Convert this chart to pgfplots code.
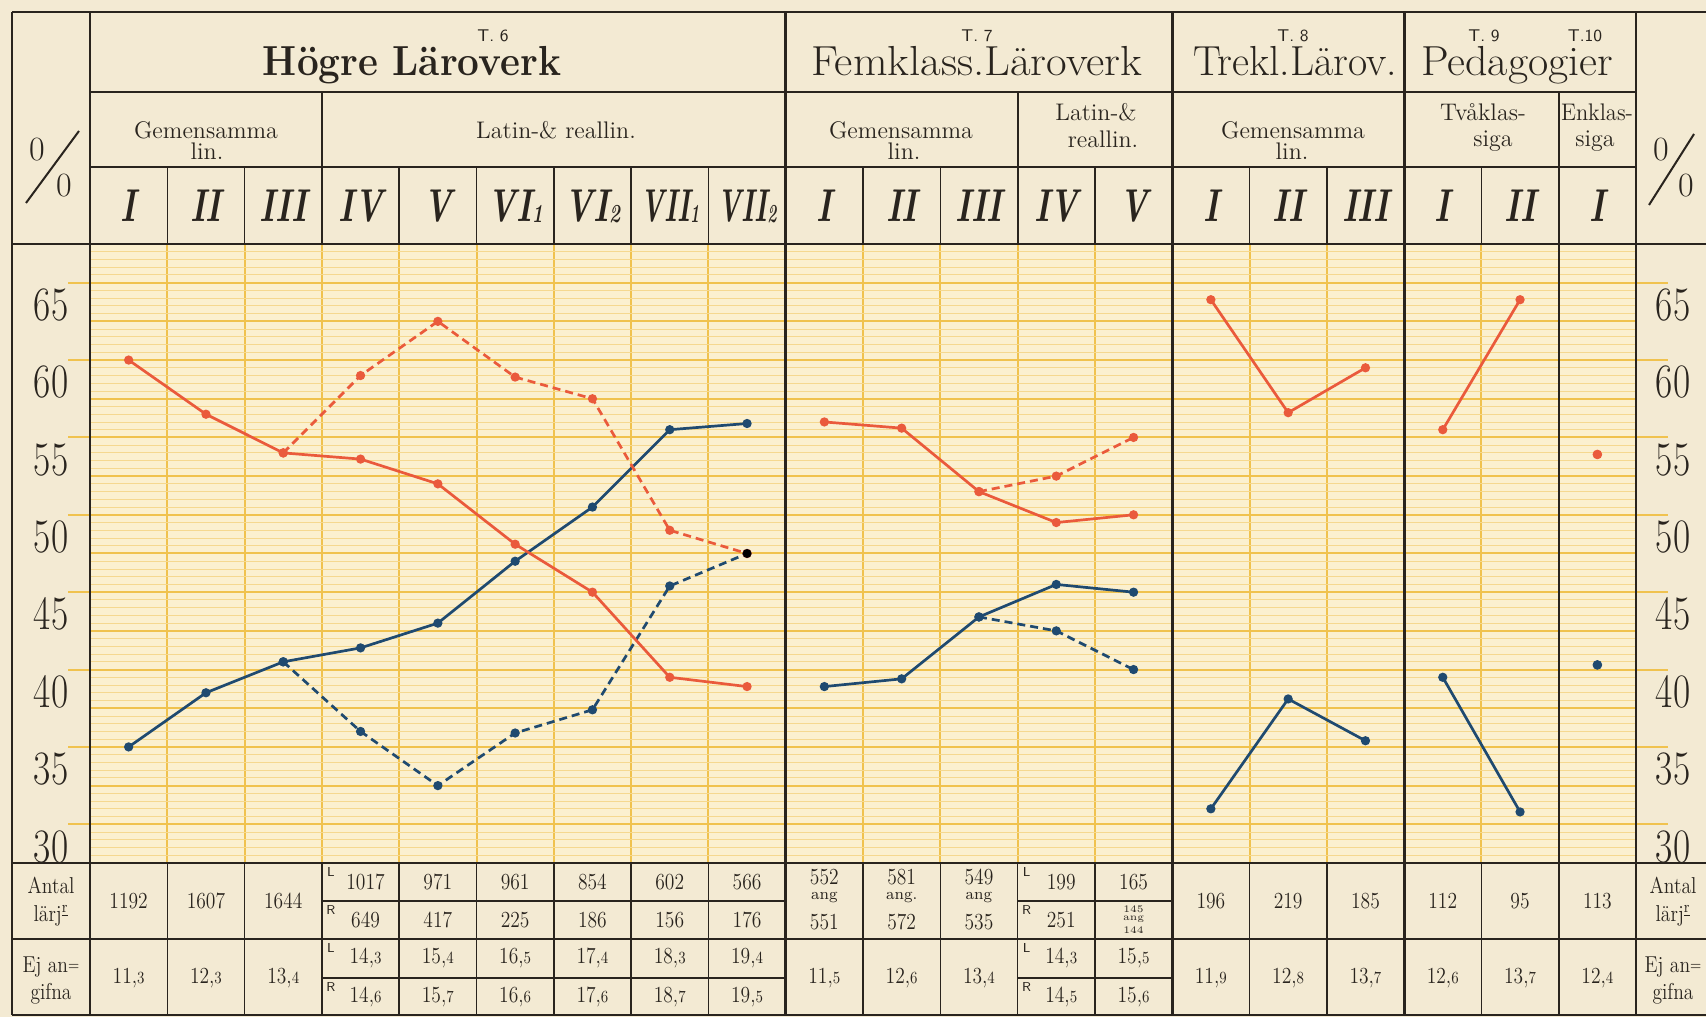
\documentclass[border=0pt]{standalone}
\usepackage{pgfplots}
\pgfplotsset{compat=1.18}
\usepackage{fontspec}
\usepackage{graphicx}
\definecolor{paper}{HTML}{F3EAD3}
\definecolor{plotbg}{HTML}{FBF0CF}
\definecolor{gmaj}{HTML}{F0C24E}
\definecolor{gmin}{HTML}{F5D88F}
\definecolor{ink}{HTML}{29241E}
\definecolor{lred}{HTML}{EA5A3C}
\definecolor{lblue}{HTML}{1F4A70}
\newcommand{\fs}[1]{\fontsize{#1}{#1}\selectfont}
\newcommand{\fb}{\addfontfeature{FakeBold=0.5}}
\newcommand{\Xc}[1]{90+(#1+0.5)*77.3}
\newcommand{\Xb}[1]{90+(#1)*77.3}
\newcommand{\Yv}[1]{863-((#1)-30)*15.475}
\newcommand{\ls}[2]{{\addfontfeature{LetterSpace=#1}#2}}
\newcommand{\dc}[2]{#1,{\fs{8.5}#2}}
\newcommand{\nb}[1]{\scalebox{0.85}[1]{#1}}
\newcommand{\sub}[1]{\raisebox{-0.5pt}{\fs{13}#1}}
\newcommand{\rn}[1]{{\fs{23}\bfseries\itshape\scalebox{0.72}[1]{#1}}}
\newcommand{\rnn}[1]{{\fs{23}\bfseries\itshape\scalebox{0.6}[1]{#1}}}
\begin{document}
\begin{tikzpicture}
\begin{scope}[x=0.5pt, shift={(0,508.5pt)}, y=-0.5pt]
\fill[paper] (0,0) rectangle (1706,1017);
\fill[plotbg] (90,244) rectangle (1636,863);
\foreach \v in {32.5,37.5,...,67.5} {
  \draw[gmaj, line width=1pt] (68,{\Yv{\v}}) -- (90,{\Yv{\v}});
  \draw[gmaj, line width=1pt] (1636,{\Yv{\v}}) -- (1668,{\Yv{\v}});
}
\end{scope}
\begin{axis}[at={(818pt,386.5pt)}, anchor=north east, scale only axis,
  width=773pt, height=309.5pt,
  xmin=0, xmax=20, ymin=30, ymax=70,
  axis line style={draw=none},
  xtick={1,...,19}, ytick={30,32.5,...,70}, minor y tick num=4,
  xticklabels={}, yticklabels={},
  major tick length=0pt, minor tick length=0pt,
  xmajorgrids, ymajorgrids, yminorgrids,
  major grid style={gmaj, line width=1pt},
  minor grid style={gmin, line width=0.45pt},
  mark size=1.6pt]
% T.6
\addplot[lblue, line width=1.35pt, mark=*] coordinates {(0.5,37.5)(1.5,41.0)(2.5,43.0)(3.5,43.9)(4.5,45.5)(5.5,49.5)(6.5,53.0)(7.5,58.0)(8.5,58.4)};
\addplot[lblue, line width=1.35pt, dash pattern=on 4pt off 2.5pt, mark=*, mark options={solid}] coordinates {(2.5,43.0)(3.5,38.5)(4.5,35.0)(5.5,38.4)(6.5,39.9)(7.5,47.9)(8.5,50.0)};
\addplot[lred, line width=1.35pt, mark=*] coordinates {(0.5,62.5)(1.5,59.0)(2.5,56.5)(3.5,56.1)(4.5,54.5)(5.5,50.6)(6.5,47.5)(7.5,42.0)(8.5,41.4)};
\addplot[lred, line width=1.35pt, dash pattern=on 4pt off 2.5pt, mark=*, mark options={solid}] coordinates {(2.5,56.5)(3.5,61.5)(4.5,65.0)(5.5,61.4)(6.5,60.0)(7.5,51.5)(8.5,50.0)};
% T.7
\addplot[lblue, line width=1.35pt, mark=*] coordinates {(9.5,41.4)(10.5,41.9)(11.5,45.9)(12.5,48.0)(13.5,47.5)};
\addplot[lblue, line width=1.35pt, dash pattern=on 4pt off 2.5pt, mark=*, mark options={solid}] coordinates {(11.5,45.9)(12.5,45.0)(13.5,42.5)};
\addplot[lred, line width=1.35pt, mark=*] coordinates {(9.5,58.5)(10.5,58.1)(11.5,54.0)(12.5,52.0)(13.5,52.5)};
\addplot[lred, line width=1.35pt, dash pattern=on 4pt off 2.5pt, mark=*, mark options={solid}] coordinates {(11.5,54.0)(12.5,55.0)(13.5,57.5)};
% T.8
\addplot[lred, line width=1.35pt, mark=*] coordinates {(14.5,66.4)(15.5,59.1)(16.5,62.0)};
\addplot[lblue, line width=1.35pt, mark=*] coordinates {(14.5,33.5)(15.5,40.6)(16.5,37.9)};
% T.9
\addplot[lred, line width=1.35pt, mark=*] coordinates {(17.5,58.0)(18.5,66.4)};
\addplot[lblue, line width=1.35pt, mark=*] coordinates {(17.5,42.0)(18.5,33.3)};
% T.10
\addplot[lred, only marks, mark=*, mark size=2.2pt] coordinates {(19.5,56.4)};
\addplot[lblue, only marks, mark=*, mark size=2.2pt] coordinates {(19.5,42.8)};
\addplot[black, only marks, mark=*, mark size=2pt] coordinates {(8.5,50.0)};
\end{axis}
\begin{scope}[x=0.5pt, shift={(0,508.5pt)}, y=-0.5pt, color=ink,
  num/.style={font=\fs{11.5}\fb, inner sep=0pt, anchor=center},
  hd/.style={inner sep=0pt, anchor=base}]
% table lines
\draw[line width=1.4pt] (12,12) -- (1706,12);
\draw[line width=1.3pt] (90,92) -- (1636,92);
\draw[line width=1.0pt] (90,167) -- (1636,167);
\draw[line width=1.4pt] (12,244) -- (1706,244);
\draw[line width=1.4pt] (12,863) -- (1706,863);
\draw[line width=1.4pt] (12,939) -- (1706,939);
\draw[line width=1.4pt] (12,1015) -- (1706,1015);
\draw[line width=0.7pt] ({\Xb{3}},901) -- ({\Xb{9}},901) ({\Xb{12}},901) -- ({\Xb{14}},901);
\draw[line width=0.7pt] ({\Xb{3}},978) -- ({\Xb{9}},978) ({\Xb{12}},978) -- ({\Xb{14}},978);
\draw[line width=1.4pt] (12,12) -- (12,1015);
\draw[line width=1.4pt] (90,12) -- (90,1015);
\foreach \k in {9,14,17,20} \draw[line width=1.4pt] ({\Xb{\k}},12) -- ({\Xb{\k}},1015);
\draw[line width=1.0pt] ({\Xb{19}},92) -- ({\Xb{19}},1015);
\foreach \k in {3,12} \draw[line width=0.9pt] ({\Xb{\k}},92) -- ({\Xb{\k}},244);
\foreach \k in {1,...,19} {
  \draw[line width=0.8pt] ({\Xb{\k}},167) -- ({\Xb{\k}},244);
  \draw[line width=0.8pt] ({\Xb{\k}},863) -- ({\Xb{\k}},1015);
}
% percent signs
\node[font=\fs{17}, inner sep=0pt] at (37,150) {0};
\node[font=\fs{17}, inner sep=0pt] at (64,186) {0};
\draw[line width=1pt] (26,203) -- (79,131);
\node[font=\fs{17}, inner sep=0pt] at (1661,150) {0};
\node[font=\fs{17}, inner sep=0pt] at (1686,186) {0};
\draw[line width=1pt] (1649,205) -- (1694,134);
% tick labels
\foreach \v in {30,35,...,65} {
  \node[hd] at (51,{\Yv{\v}-1}) {\fs{24}\scalebox{0.78}[1]{\v}};
  \node[hd] at (1673,{\Yv{\v}-1}) {\fs{24}\scalebox{0.78}[1]{\v}};
}
% header row 1
\node[hd, font=\sffamily\fs{8.5}] at (493,42) {T. 6};
\node[hd, font=\sffamily\fs{8.5}] at (977,42) {T. 7};
\node[hd, font=\sffamily\fs{8.5}] at (1293,42) {T. 8};
\node[hd, font=\sffamily\fs{8.5}] at (1484,42) {T. 9};
\node[hd, font=\sffamily\fs{8.5}] at (1585,42) {T.10};
\node[hd] at (412,76) {\fs{21}\bfseries\resizebox{149pt}{\height}{Högre Läroverk}};
\node[hd] at (977,76) {\fs{21}\fb\resizebox{165.5pt}{\height}{Femklass.Läroverk}};
\node[hd] at (1295,76) {\fs{21}\fb\resizebox{102pt}{\height}{Trekl.Lärov.}};
\node[hd] at (1517,76) {\fs{21}\fb\resizebox{96pt}{\height}{Pedagogier}};
% header row 2
\node[hd] at (206,139) {\fs{12}\fb\ls{18}{Gemensamma}};
\node[hd] at (207,160) {\fs{12}\fb\ls{18}{lin.}};
\node[hd] at (556,139) {\fs{12}\fb\ls{17}{Latin-\& reallin.}};
\node[hd] at (901,139) {\fs{12}\fb\ls{18}{Gemensamma}};
\node[hd] at (904,160) {\fs{12}\fb\ls{18}{lin.}};
\node[hd] at (1096,121) {\fs{12}\fb\ls{10}{Latin-\&}};
\node[hd] at (1103,148) {\fs{12}\fb\ls{15}{reallin.}};
\node[hd] at (1293,139) {\fs{12}\fb\ls{18}{Gemensamma}};
\node[hd] at (1292,160) {\fs{12}\fb\ls{18}{lin.}};
\node[hd] at (1483,121) {\fs{12}\fb\ls{10}{Tvåklas-}};
\node[hd] at (1493,147) {\fs{12}\fb\ls{5}{siga}};
\node[hd] at (1597,121) {\fs{12}\fb\resizebox{36pt}{\height}{Enklas-}};
\node[hd] at (1595,147) {\fs{12}\fb\ls{5}{siga}};
% header row 3
\node[hd] at ({\Xc{0}},222) {\rn{I}};
\node[hd] at ({\Xc{1}},222) {\rn{II}};
\node[hd] at ({\Xc{2}},222) {\rn{III}};
\node[hd] at ({\Xc{3}},222) {\rn{IV}};
\node[hd] at ({\Xc{4}},222) {\rn{V}};
\node[hd] at ({\Xc{5}},222) {\rn{VI\sub{1}}};
\node[hd] at ({\Xc{6}},222) {\rn{VI\sub{2}}};
\node[hd] at ({\Xc{7}},222) {\rnn{VII\sub{1}}};
\node[hd] at ({\Xc{8}},222) {\rnn{VII\sub{2}}};
\node[hd] at ({\Xc{9}},222) {\rn{I}};
\node[hd] at ({\Xc{10}},222) {\rn{II}};
\node[hd] at ({\Xc{11}},222) {\rn{III}};
\node[hd] at ({\Xc{12}},222) {\rn{IV}};
\node[hd] at ({\Xc{13}},222) {\rn{V}};
\node[hd] at ({\Xc{14}},222) {\rn{I}};
\node[hd] at ({\Xc{15}},222) {\rn{II}};
\node[hd] at ({\Xc{16}},222) {\rn{III}};
\node[hd] at ({\Xc{17}},222) {\rn{I}};
\node[hd] at ({\Xc{18}},222) {\rn{II}};
\node[hd] at ({\Xc{19}},222) {\rn{I}};
% footer labels
\foreach \xx in {51,1673} {
  \node[hd, font=\fs{11.5}\fb] at (\xx,893) {\nb{Antal}};
  \node[hd, font=\fs{11.5}\fb] at (\xx,921) {\nb{lärj\textsuperscript{\underline{r}}}};
  \node[hd, font=\fs{11.5}\fb] at (\xx,972) {\nb{Ej an\raisebox{1pt}{\fs{8}=}}};
  \node[hd, font=\fs{11.5}\fb] at (\xx,999) {\nb{gifna}};
}
% Antal row
\foreach \k/\t in {0/1192,1/1607,2/1644,14/196,15/219,16/185,17/112,18/95,19/113}
  \node[num] at ({\Xc{\k}},901) {\nb{\t}};
\foreach \k/\t in {4/971,5/961,6/854,7/602,8/566,13/165}
  \node[num] at ({\Xc{\k}},882) {\nb{\t}};
\foreach \k/\t in {4/417,5/225,6/186,7/156,8/176}
  \node[num] at ({\Xc{\k}},920) {\nb{\t}};
\node[num] at ({\Xc{3}+5},882) {\nb{1017}};
\node[num] at ({\Xc{3}+5},920) {\nb{649}};
\node[num] at ({\Xc{12}+5},882) {\nb{199}};
\node[num] at ({\Xc{12}+5},920) {\nb{251}};
\foreach \k/\a/\b/\c in {9/552/ang/551,10/581/ang./572,11/549/ang/535} {
  \node[num] at ({\Xc{\k}},877) {\nb{\a}};
  \node[num, font=\fs{8}\fb] at ({\Xc{\k}},898) {\b};
  \node[num] at ({\Xc{\k}},922) {\nb{\c}};
}
\node[num, font=\fs{5}\fb] at ({\Xc{13}},909) {145};
\node[num, font=\fs{5}\fb] at ({\Xc{13}},919) {ang};
\node[num, font=\fs{5}\fb] at ({\Xc{13}},930) {144};
\foreach \k in {3,12} {
  \node[font=\sffamily\fs{6.5}, inner sep=0pt] at ({\Xb{\k}+9},872) {L};
  \node[font=\sffamily\fs{6.5}, inner sep=0pt] at ({\Xb{\k}+9},910) {R};
  \node[font=\sffamily\fs{6.5}, inner sep=0pt] at ({\Xb{\k}+9},948) {L};
  \node[font=\sffamily\fs{6.5}, inner sep=0pt] at ({\Xb{\k}+9},987) {R};
}
% Ej angifna row
\foreach \k/\a/\b in {0/11/3,1/12/3,2/13/4,9/11/5,10/12/6,11/13/4,14/11/9,15/12/8,16/13/7,17/12/6,18/13/7,19/12/4}
  \node[num] at ({\Xc{\k}},978) {\nb{\dc{\a}{\b}}};
\foreach \k/\a/\b in {4/15/4,5/16/5,6/17/4,7/18/3,8/19/4,13/15/5}
  \node[num] at ({\Xc{\k}},958) {\nb{\dc{\a}{\b}}};
\foreach \k/\a/\b in {4/15/7,5/16/6,6/17/6,7/18/7,8/19/5,13/15/6}
  \node[num] at ({\Xc{\k}},997) {\nb{\dc{\a}{\b}}};
\node[num] at ({\Xc{3}+5},958) {\nb{\dc{14}{3}}};
\node[num] at ({\Xc{3}+5},997) {\nb{\dc{14}{6}}};
\node[num] at ({\Xc{12}+5},958) {\nb{\dc{14}{3}}};
\node[num] at ({\Xc{12}+5},997) {\nb{\dc{14}{5}}};
\end{scope}
\pgfresetboundingbox
\path[use as bounding box] (0pt,0pt) rectangle (853pt,508.5pt);
\end{tikzpicture}
\end{document}
